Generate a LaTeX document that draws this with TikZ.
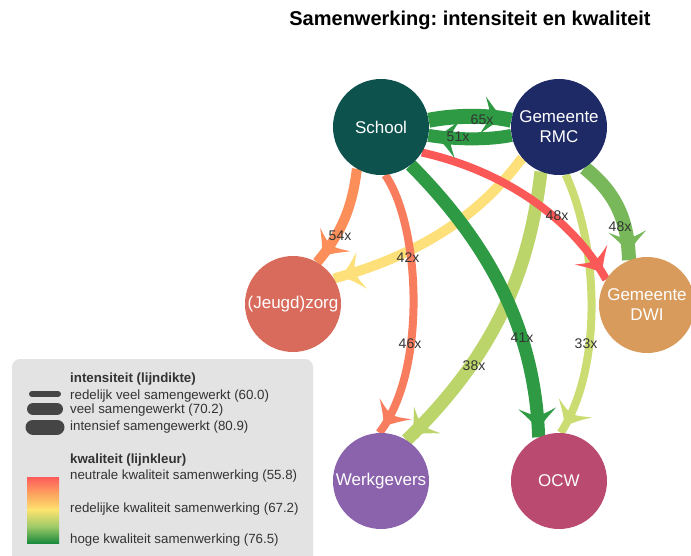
\documentclass[tikz,border=0pt]{standalone}
\usepackage{fontspec}
\setmainfont{Liberation Sans}
\usetikzlibrary{decorations.markings,backgrounds}
\definecolor{cSchool}{HTML}{0E524E}
\definecolor{cRMC}{HTML}{1E2A66}
\definecolor{cZorg}{HTML}{D96B5C}
\definecolor{cDWI}{HTML}{D99B5C}
\definecolor{cWerk}{HTML}{8B63AD}
\definecolor{cOCW}{HTML}{BA4A6F}
\definecolor{cGreenD}{HTML}{2F9A44}
\definecolor{cGreenM}{HTML}{78B85A}
\definecolor{cGreenL}{HTML}{BCD56B}
\definecolor{cGreenY}{HTML}{CADC72}
\definecolor{cYellow}{HTML}{FDE07A}
\definecolor{cOrange}{HTML}{FC8E5A}
\definecolor{cSalmon}{HTML}{F87D5E}
\definecolor{cRed}{HTML}{FB5858}
\definecolor{cText}{HTML}{333333}
\definecolor{cLegend}{HTML}{E3E3E3}
\definecolor{cPill}{HTML}{454545}
\definecolor{gRed}{HTML}{FF5B5B}
\definecolor{gOrange}{HTML}{FCA35E}
\definecolor{gYellow}{HTML}{FDE36F}
\definecolor{gLGreen}{HTML}{9FCB68}
\definecolor{gDGreen}{HTML}{1B8A3D}
\frenchspacing
\begin{document}
\begin{tikzpicture}[x=1pt,y=-1pt,
  nd/.style={circle,minimum size=96pt,inner sep=0pt,text=white,
    font=\fontsize{17}{20}\selectfont,align=center},
  edge/.style={line cap=butt,postaction={decorate},
    decoration={markings,mark=at position -8pt with
      {\fill (0,0) .. controls (-10,8) .. (-21,19) .. controls (-12,0) .. (-21,-19) .. controls (-10,-8) .. (0,0) -- cycle;}}},
  lbl/.style={font=\fontsize{14}{16}\selectfont,text=cText,inner sep=0pt},
  legtxt/.style={font=\fontsize{13.3}{15}\selectfont,text=cText,inner sep=0pt,anchor=west},
  pill/.style={line cap=round,draw=cPill}
]
\useasboundingbox (0,0) rectangle (691,556);
% title
\node[font=\fontsize{20}{24}\selectfont\bfseries,inner sep=0pt] (title) at (470,20) {Samenwerking: intensiteit en kwaliteit};
% nodes
\node[nd,fill=cSchool] (School) at (381,127) {School};
\node[nd,fill=cRMC] (RMC) at (559,127) {Gemeente\\RMC};
\node[nd,fill=cZorg] (Zorg) at (293,304) {(Jeugd)zorg};
\node[nd,fill=cDWI] (DWI) at (647,305) {Gemeente\\DWI};
\node[nd,fill=cWerk] (Werk) at (381,481) {Werkgevers};
\node[nd,fill=cOCW] (OCW) at (559,481) {OCW};
% edges
\begin{pgfonlayer}{background}
\draw[edge,color=cYellow,line width=10pt] (RMC.-140) .. controls (480,215) and (420,255) .. (Zorg.32);
\draw[edge,color=cGreenL,line width=13pt] (RMC.-112) .. controls (530,265) and (500,350) .. (Werk.58);
\draw[edge,color=cGreenY,line width=8pt] (RMC.-82) .. controls (600,250) and (602,370) .. (OCW.88);
\draw[edge,color=cGreenD,line width=13pt] (School.-52) .. controls (480,235) and (535,320) .. (OCW.115);
\draw[edge,color=cRed,line width=8pt] (School.-32) .. controls (500,170) and (570,215) .. (DWI.148);
\draw[edge,color=cGreenM,line width=14pt] (RMC.-58) .. controls (612,190) and (628,215) .. (DWI.112);
\draw[edge,color=cOrange,line width=10pt] (School.-120) .. controls (352,210) and (340,235) .. (Zorg.60);
\draw[edge,color=cSalmon,line width=8pt] (School.-85) .. controls (420,225) and (428,370) .. (Werk.92);
\draw[edge,color=cGreenD,line width=15pt] (School.8) .. controls (455,115) and (490,115) .. (RMC.172);
\draw[edge,color=cGreenD,line width=13pt] (RMC.-170) .. controls (490,140) and (455,140) .. (School.-10);
\end{pgfonlayer}
% edge labels
\node[lbl] (l65) at (482,120) {65x};
\node[lbl] (l51) at (458,137) {51x};
\node[lbl] (l54) at (340,236) {54x};
\node[lbl] (l42) at (408,258) {42x};
\node[lbl] (l46) at (410,344) {46x};
\node[lbl] (l41) at (522,338) {41x};
\node[lbl] (l48r) at (557,216) {48x};
\node[lbl] (l48g) at (620,227) {48x};
\node[lbl] (l38) at (474,366) {38x};
\node[lbl] (l33) at (586,344) {33x};
% legend
\fill[cLegend,rounded corners=8pt] (12,359) rectangle (313,575);
\node[legtxt,font=\fontsize{13.3}{15}\selectfont\bfseries] (lgi) at (70,379) {intensiteit (lijndikte)};
\node[legtxt] (lg1) at (70,396) {redelijk veel samengewerkt (60.0)};
\node[legtxt] (lg2) at (70,410) {veel samengewerkt (70.2)};
\node[legtxt] (lg3) at (70,427) {intensief samengewerkt (80.9)};
\draw[pill,line width=6pt] (32,394) -- (58,394);
\draw[pill,line width=12pt] (33,409) -- (57,409);
\draw[pill,line width=15pt] (33,427) -- (57,427);
\node[legtxt,font=\fontsize{13.3}{15}\selectfont\bfseries] (lgk) at (70,460) {kwaliteit (lijnkleur)};
\node[legtxt] (lk1) at (70,476) {neutrale kwaliteit samenwerking (55.8)};
\node[legtxt] (lk2) at (70,509) {redelijke kwaliteit samenwerking (67.2)};
\node[legtxt] (lk3) at (70,540) {hoge kwaliteit samenwerking (76.5)};
\shade[top color=gRed,bottom color=gYellow,middle color=gOrange] (27,477) rectangle (59,510);
\shade[top color=gYellow,bottom color=gDGreen,middle color=gLGreen] (27,509.5) rectangle (59,543);
\end{tikzpicture}
\end{document}
